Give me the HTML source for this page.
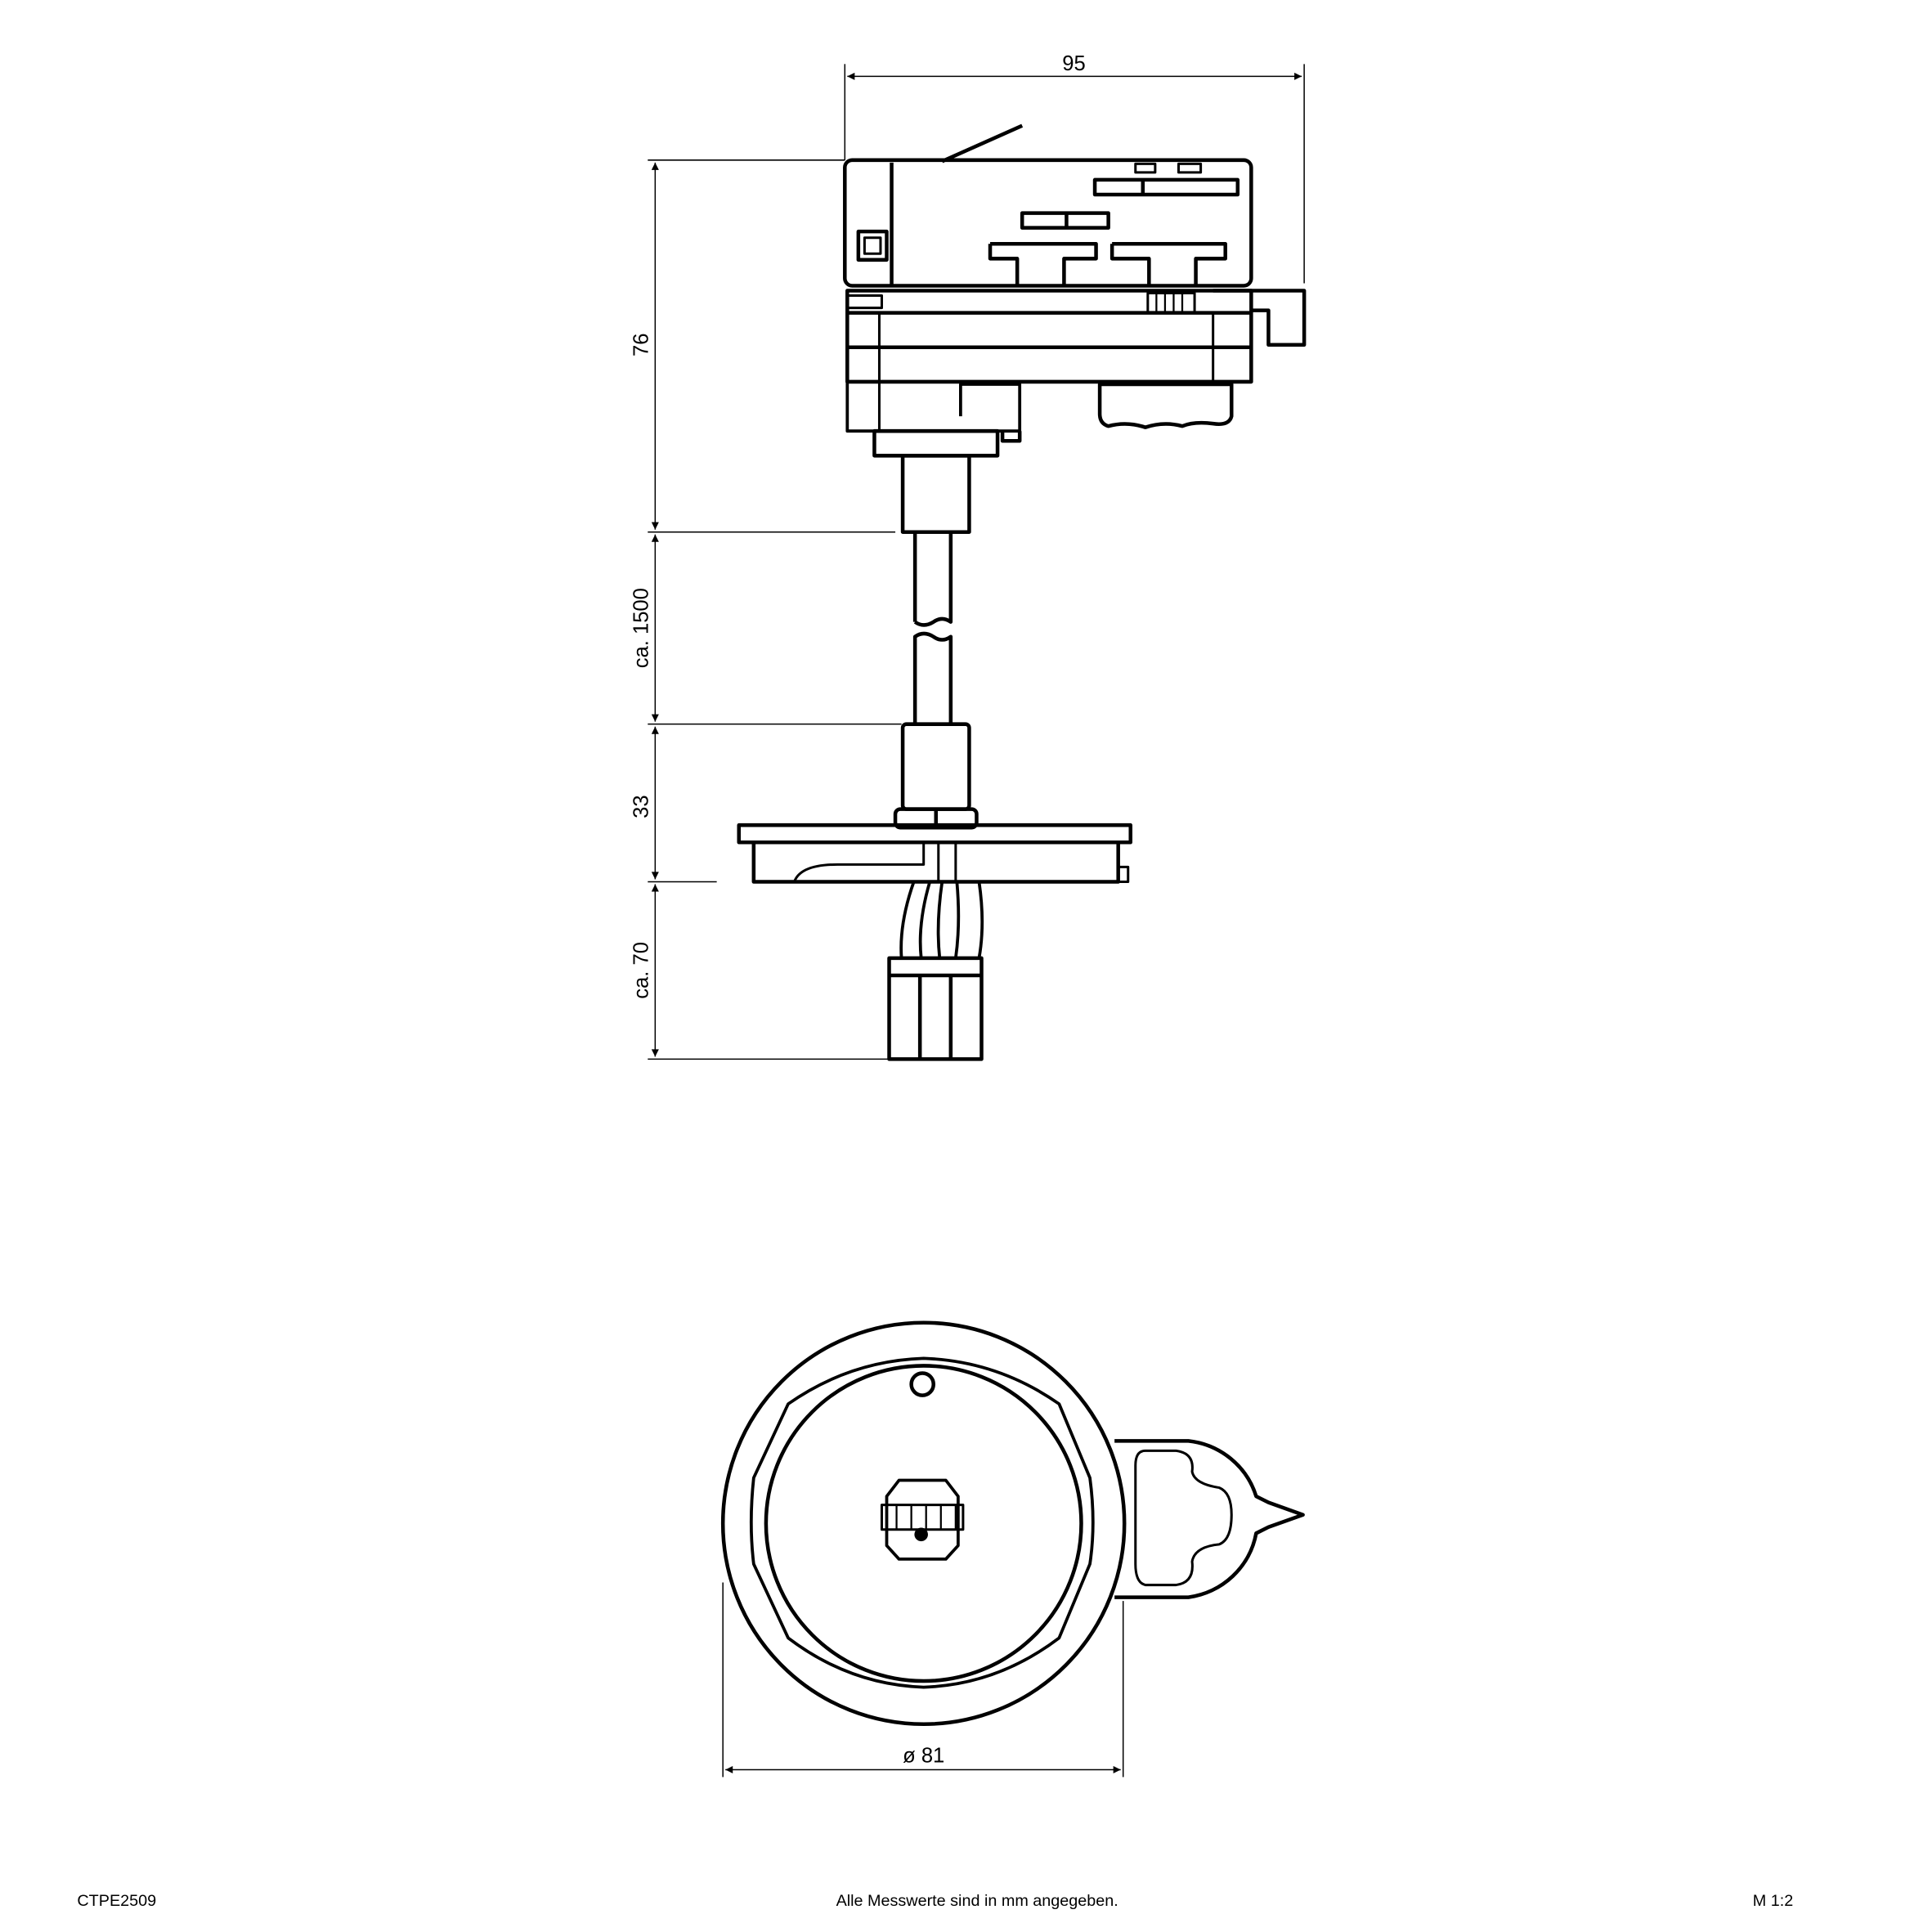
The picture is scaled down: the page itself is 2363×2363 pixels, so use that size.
<!DOCTYPE html>
<html><head><meta charset="utf-8"><style>
html,body{margin:0;padding:0;background:#fff}
svg{display:block}
text{font-family:"Liberation Sans",sans-serif;fill:#000}
</style></head><body>
<svg width="2363" height="2363" viewBox="0 0 1552 1552" xmlns="http://www.w3.org/2000/svg">
<defs>
<marker id="a" viewBox="0 0 10 10" refX="10" refY="5" markerWidth="10" markerHeight="6" orient="auto-start-reverse" markerUnits="userSpaceOnUse"><path d="M0,0 L10,5 L0,10 z" fill="#000"/></marker>
</defs>
<rect width="1552" height="1552" fill="#fff"/>
<g font-size="13">
<text x="62" y="1531">CTPE2509</text>
<text x="785" y="1531" text-anchor="middle">Alle Messwerte sind in mm angegeben.</text>
<text x="1408" y="1531">M 1:2</text>
</g>
<g transform="scale(0.9893)">
<g stroke="#000" stroke-width="1" fill="none">
<line x1="686" y1="52" x2="686" y2="130"/>
<line x1="1059" y1="52" x2="1059" y2="230"/>
<line x1="688" y1="62" x2="1057" y2="62" marker-start="url(#a)" marker-end="url(#a)"/>
<line x1="526" y1="130" x2="686" y2="130"/>
<line x1="526" y1="432" x2="727" y2="432"/>
<line x1="526" y1="588" x2="732" y2="588"/>
<line x1="526" y1="716" x2="582" y2="716"/>
<line x1="526" y1="860" x2="722" y2="860"/>
<line x1="532" y1="132" x2="532" y2="430" marker-start="url(#a)" marker-end="url(#a)"/>
<line x1="532" y1="434" x2="532" y2="586" marker-start="url(#a)" marker-end="url(#a)"/>
<line x1="532" y1="590" x2="532" y2="714" marker-start="url(#a)" marker-end="url(#a)"/>
<line x1="532" y1="718" x2="532" y2="858" marker-start="url(#a)" marker-end="url(#a)"/>
<line x1="587" y1="1285" x2="587" y2="1443"/>
<line x1="912" y1="1300" x2="912" y2="1443"/>
<line x1="589" y1="1437" x2="910" y2="1437" marker-start="url(#a)" marker-end="url(#a)"/>
</g>
<g font-size="17" text-anchor="middle">
<text x="872" y="57">95</text>
<text transform="translate(526,280) rotate(-90)">76</text>
<text transform="translate(526,510) rotate(-90)">ca. 1500</text>
<text transform="translate(526,655) rotate(-90)">33</text>
<text transform="translate(526,788) rotate(-90)">ca. 70</text>
<text x="750" y="1431">ø 81</text>
</g>
<g stroke="#000" stroke-width="3" fill="none" stroke-linejoin="round">
<line x1="765" y1="131" x2="830" y2="102"/>
<rect x="686" y="130" width="330" height="102" rx="6"/>
<line x1="724" y1="132" x2="724" y2="232"/>
<rect x="697" y="188" width="23" height="23"/>
<rect x="702" y="193" width="13" height="13" stroke-width="2"/>
<rect x="922" y="133" width="16" height="7" stroke-width="2"/>
<rect x="957" y="133" width="18" height="7" stroke-width="2"/>
<rect x="889" y="146" width="116" height="12"/>
<line x1="928" y1="146" x2="928" y2="158"/>
<rect x="830" y="173" width="70" height="12"/>
<line x1="866" y1="173" x2="866" y2="185"/>
<path d="M804,198 H890 V210 H864 V232 M826,232 V210 H804 V198"/>
<path d="M903,198 H995 V210 H971 V232 M933,232 V210 H903 V198"/>
<rect x="688" y="236" width="328" height="74"/>
<line x1="688" y1="254" x2="1016" y2="254"/>
<line x1="688" y1="282" x2="1016" y2="282"/>
<rect x="688" y="240" width="28" height="10" stroke-width="2"/>
<line x1="714" y1="254" x2="714" y2="350" stroke-width="2"/>
<line x1="985" y1="254" x2="985" y2="310" stroke-width="2"/>
<path d="M985,236 H1059 V280 H1030 V252 H1016"/>
<rect x="932" y="238" width="38" height="16" stroke-width="2"/>
<path d="M939,238V254M946,238V254M953,238V254M960,238V254" stroke-width="1.5"/>
<path d="M688,310 V350 H828 V312 H780 V338" stroke-width="2.5"/>
<path d="M814,350 V358 H828 V350"/>
<path d="M893,312 H1000 V338 Q998,346 985,344 Q970,342 960,346 Q945,342 930,347 Q915,342 900,346 Q893,344 893,336 Z"/>
<rect x="710" y="350" width="100" height="20"/>
<rect x="733" y="370" width="54" height="62"/>
<path d="M743,432 V505 M772,432 V505 Q765,500 758,505 Q750,510 743,505"/>
<path d="M743,588 V517 Q750,512 758,517 Q765,522 772,517 V588"/>
<rect x="733" y="588" width="54" height="69" rx="3"/>
<rect x="727" y="657" width="66" height="15" rx="4"/>
<line x1="760" y1="657" x2="760" y2="672"/>
<rect x="600" y="670" width="318" height="14"/>
<path d="M612,684 V716 H908 V684"/>
<path d="M908,704 H916 V716 H908" stroke-width="2"/>
<path d="M645,716 Q650,702 680,702 H750 V684" stroke-width="2"/>
<line x1="762" y1="684" x2="762" y2="716" stroke-width="2"/>
<line x1="776" y1="684" x2="776" y2="716" stroke-width="2"/>
<path d="M742,716 Q730,750 732,778 M795,716 Q800,750 795,778 M755,716 Q745,750 748,778 M765,716 Q760,750 763,778 M777,716 Q780,750 776,778" stroke-width="2.5"/>
<rect x="722" y="778" width="75" height="82"/>
<line x1="722" y1="792" x2="797" y2="792"/>
<line x1="747" y1="792" x2="747" y2="860"/>
<line x1="772" y1="792" x2="772" y2="860"/>
</g>
<g stroke="#000" stroke-width="3" fill="none" stroke-linejoin="round">
<path d="M905,1170 H965 A65,64 0 0 1 1020,1215 L1030,1220 L1058,1230 L1030,1240 L1020,1245 A65,64 0 0 1 965,1297 H905"/>
<path d="M930,1178 H955 Q970,1180 968,1195 Q970,1205 990,1208 Q1000,1212 1000,1230 Q1000,1250 990,1254 Q970,1256 968,1268 Q970,1285 955,1287 H930 Q922,1285 922,1270 V1190 Q922,1178 930,1178 Z" stroke-width="2"/>
<circle cx="750" cy="1237" r="163" fill="#fff"/>
<path d="M640,1140 Q690,1105 750,1103 Q810,1105 860,1140 L885,1200 Q890,1237 885,1270 L860,1330 Q810,1368 750,1370 Q690,1368 640,1330 L612,1270 Q608,1237 612,1200 Z" stroke-width="2.5"/>
<circle cx="750" cy="1237" r="128"/>
<circle cx="749" cy="1124" r="9"/>
<path d="M730,1202 H768 L778,1215 V1255 L768,1266 H730 L720,1255 V1215 Z" stroke-width="2.5"/>
<rect x="716" y="1222" width="66" height="20" stroke-width="2"/>
<path d="M728,1222V1242M740,1222V1242M752,1222V1242M764,1222V1242M776,1222V1242" stroke-width="1.5"/>
<circle cx="748" cy="1246" r="4" fill="#000"/>
</g>
</g>
</svg>
</body></html>
